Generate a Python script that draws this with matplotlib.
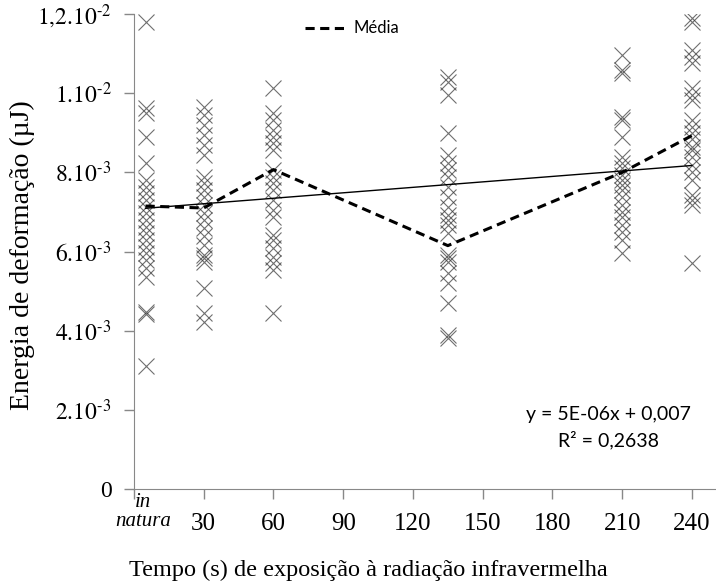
import numpy as np
import matplotlib
matplotlib.use("Agg")
import matplotlib.pyplot as plt

plt.rcParams['mathtext.fontset'] = 'stix'
plt.rcParams['font.family'] = 'Liberation Serif'

# tempos de exposicao (s); "in natura" plotado em x=5
groups = [5, 30, 60, 135, 210, 240]

e_natura = [11.79, 9.62, 9.49, 8.89, 8.23, 7.80, 7.63, 7.47, 7.30, 7.12, 6.97, 6.79,
            6.62, 6.46, 6.29, 6.11, 5.96, 5.78, 5.58, 5.35, 4.47, 4.42, 3.11]
e_30 = [9.65, 9.44, 9.19, 8.94, 8.69, 8.43, 7.88, 7.73, 7.55, 7.37, 7.17, 6.97,
        6.79, 6.59, 6.39, 6.16, 5.91, 5.83, 5.73, 5.08, 4.44, 4.22]
e_60 = [10.13, 9.49, 9.32, 9.06, 8.89, 8.74, 8.56, 8.06, 7.88, 7.73, 7.55, 7.30,
        7.05, 6.87, 6.41, 6.29, 6.09, 5.86, 5.71, 5.53, 4.44]
e_135 = [10.40, 10.28, 9.95, 8.99, 8.43, 8.23, 8.06, 7.88, 7.63, 7.37, 7.12, 6.92,
         6.79, 6.67, 6.46, 5.91, 5.83, 5.73, 5.45, 5.20, 4.70, 3.89, 3.81]
e_210 = [10.96, 10.58, 10.51, 9.39, 9.32, 8.89, 8.38, 8.23, 8.11, 7.93, 7.80, 7.68,
         7.55, 7.37, 7.17, 6.99, 6.87, 6.67, 6.49, 6.29, 5.96]
e_240 = [11.89, 11.79, 11.09, 10.91, 10.76, 10.13, 9.95, 9.82, 9.32, 9.14, 8.99, 8.84,
         8.64, 8.56, 8.38, 8.18, 8.01, 7.80, 7.42, 7.30, 7.17, 5.71]
all_e = [e_natura, e_30, e_60, e_135, e_210, e_240]

media = [7.15, 7.10, 8.07, 6.15, 8.00, 8.93]   # x 1e-3

# linha de tendencia
slope = 4.6e-6
intercept = 7.07e-3

xticks = [0, 30, 60, 90, 120, 150, 180, 210, 240]
xticklabels = ['', '30', '60', '90', '120', '150', '180', '210', '240']
yticks = [0, 0.002, 0.004, 0.006, 0.008, 0.010, 0.012]
yticklabels = ['0', r'$2.10^{\text{-}3}$', r'$4.10^{\text{-}3}$', r'$6.10^{\text{-}3}$',
               r'$8.10^{\text{-}3}$', r'$1.10^{\text{-}2}$', r'$1{,}2.10^{\text{-}2}$']

fig = plt.figure(figsize=(7.16, 5.83), dpi=100)
ax = fig.add_axes([0.187, 0.161, 0.812, 0.815])

for g, vals in zip(groups, all_e):
    ax.plot([g] * len(vals), np.array(vals) * 1e-3, linestyle='none', marker='x',
            markersize=11.5, markeredgewidth=0.8, color='#333333', alpha=0.7)

xt = np.array([groups[0], groups[-1]])
ax.plot(xt, slope * xt + intercept, color='black', lw=1.0)
ax.plot(groups, np.array(media) * 1e-3, color='black', lw=2.2,
        linestyle=(0, (3, 1.8)), label='Média')

ax.set_xlim(0, 250)
ax.set_ylim(0, 0.012)
ax.set_xticks(xticks)
ax.set_xticklabels(xticklabels, fontsize=18)
ax.set_yticks(yticks)
ax.set_yticklabels(yticklabels, fontsize=17)
ax.tick_params(colors='#888888', labelcolor='black', length=7, width=1)
ax.tick_params(axis='x', pad=10)
ax.tick_params(axis='y', pad=9)

for s in ['top', 'right']:
    ax.spines[s].set_visible(False)
for s in ['left', 'bottom']:
    ax.spines[s].set_color('#888888')

ax.text(4, -0.0001, 'in\nnatura', ha='center', va='top', fontsize=15,
        style='italic', linespacing=1.0)

ax.set_ylabel('Energia de deformação (µJ)', fontsize=20)
ax.yaxis.set_label_coords(-0.17, 0.493)
ax.set_xlabel('Tempo (s) de exposição à radiação infravermelha', fontsize=17.5,
              labelpad=18, x=0.403)

ax.text(204, 0.00155, 'y = 5E-06x + 0,007\nR² = 0,2638', ha='center', va='center',
        fontsize=14, family='Lato', linespacing=1.45)

ax.legend(loc='upper center', bbox_to_anchor=(0.375, 1.018), frameon=False,
          prop={'family': 'Lato', 'size': 12}, handlelength=2.6, handletextpad=0.3)

fig.savefig('out.png', dpi=100)
